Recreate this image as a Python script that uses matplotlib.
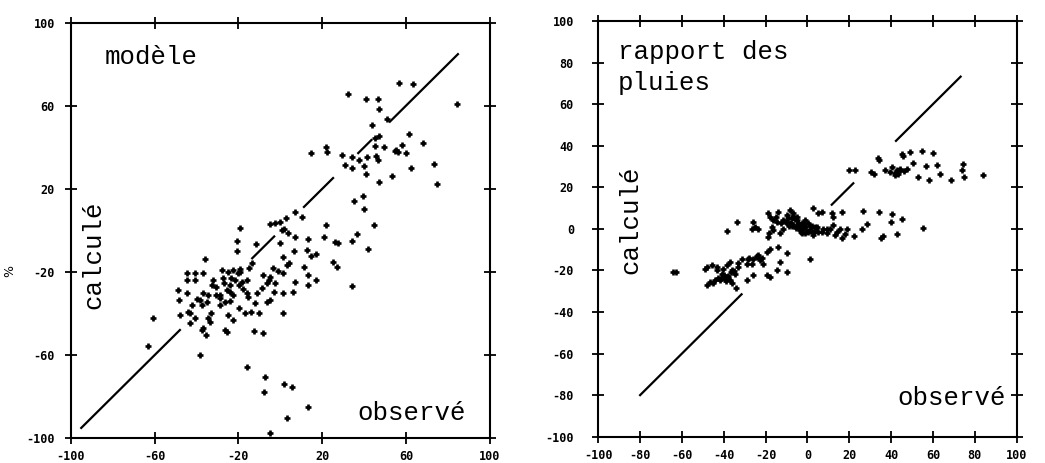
import numpy as np
import matplotlib
matplotlib.use("Agg")
import matplotlib.pyplot as plt

# panel 1 : modele  (observe, calcule) en %
obs_mod = [32.1, 40.7, 46.7, 47.1, 56.8, 63.4, 84.4, 44.0, 51.0, 47.1, 61.5, 68.2, 45.2, 49.4,
           21.8, 22.4, 14.8, 29.7, 34.0, 37.7, 41.2, 45.9, 46.7, 54.7, 58.2, 60.2, 30.9, 34.4,
           39.9, 40.9, 46.9, 53.1, 62.6, 73.3, 74.6, 35.1, 39.6, 40.2, 44.7, 42.0, 34.0, 34.0,
           36.4, 21.8, 20.8, 26.1, 27.7, 25.0, 27.2, 7.0, 10.2, 2.7, -4.9, -2.5, 0.6, 3.8,
           7.0, -0.2, -19.2, -20.5, -20.5, -11.6, 13.4, 12.6, 14.9, 17.0, 6.7, 1.4, 4.3, 11.3,
           13.4, 17.0, 13.4, 7.0, 3.0, 1.4, -3.7, -1.0, -4.9, -8.1, -6.5, -2.5, 1.4, 6.2,
           -3.0, -4.9, -8.9, -11.3, -12.1, -15.3, -14.1, -10.0, -6.5, 1.4, -14.8, -13.7, -19.2,
           -22.4, -21.6, -19.6, -18.0, -16.1, -22.4, -24.0, -19.6, -17.0, -22.4, -26.4, -25.3,
           -12.6, -8.4, -24.8, -28.0, -26.9, -25.6, -28.8, -24.0, -32.0, -32.4, -30.7, -28.8,
           -24.8, -26.4, -35.9, -36.7, -40.7, -44.4, -40.7, -44.4, -48.6, -48.1, -44.7, -42.3,
           -43.1, -47.9, -44.2, -40.7, -43.1, -39.9, -38.3, -37.5, -35.1, -34.3, -36.7, -33.2,
           -34.3, -33.5, -36.7, -37.5, -35.5, -38.3, -60.9, -63.0, -15.7, -7.3, -7.8, 1.7, 5.4,
           13.4, 3.3, -4.9, -27.2, -30.7, -23.7, -18.1, -15.7, -24.0, -28.8, -20.0, -19.0,
           0.0, 2.0, -5.5, 55.0, 56.0, 45.0]
calc_mod = [65.5, 63.4, 63.4, 58.5, 70.8, 70.3, 61.0, 50.9, 53.5, 45.2, 46.3, 41.9, 40.8, 40.3,
            40.0, 37.5, 37.1, 36.2, 35.5, 33.9, 35.5, 35.8, 33.9, 38.4, 41.0, 37.1, 31.5, 29.9,
            31.2, 27.2, 23.5, 26.2, 30.2, 31.8, 22.2, 14.2, 16.6, 10.2, 2.6, -8.9, -26.7, -4.9,
            -1.8, 2.5, -3.3, -5.7, -5.9, -15.0, -17.4, 8.9, 6.3, 5.9, 3.0, 3.4, 0.1, -1.4,
            -3.0, -6.2, 1.0, -4.9, -9.7, -6.7, -4.1, -9.4, -12.1, -11.3, -9.7, -12.6, -15.8, -17.4,
            -21.4, -23.8, -26.2, -24.6, -16.6, -20.6, -18.2, -19.3, -22.2, -21.4, -25.4, -25.4,
            -29.9, -29.4, -29.4, -33.4, -27.8, -30.2, -35.0, -31.8, -39.1, -39.9, -34.2, -39.9,
            -18.2, -15.8, -19.8, -19.0, -23.8, -26.2, -28.3, -30.2, -31.0, -33.8, -37.5, -39.9,
            -43.1, -47.9, -48.7, -48.2, -49.2, -19.8, -19.0, -25.4, -28.6, -31.0, -29.4, -23.8,
            -26.2, -31.0, -32.3, -40.7, -34.2, -13.9, -20.3, -20.6, -20.3, -23.8, -23.8, -28.6,
            -33.4, -30.2, -35.8, -39.9, -40.7, -39.1, -42.3, -44.3, -33.0, -33.4, -35.8, -34.2,
            -31.0, -30.2, -39.9, -42.3, -43.9, -47.1, -47.9, -50.3, -59.9, -41.9, -55.4, -65.8,
            -70.3, -77.5, -74.0, -75.5, -84.8, -90.4, -97.6, -23.0, -27.0, -23.0, -24.6, -23.8,
            -26.2, -35.8, -20.5, -18.5, 4.0, 0.5, -24.0, 38.5, 37.8, 44.5]

# panel 2 : rapport des pluies
obs_rap = [22.7, 30.2, 31.8, 34.3, 37.1, 40.2, 41.8, 43.4, 45.0, 45.8, 49.0, 50.3, 47.4, 46.1,
           54.6, 60.2, 56.7, 61.8, 63.3, 53.0, 58.2, 68.4, 74.2, 73.7, 74.8, 84.1, 42.6, 39.4,
           44.2, 26.7, 34.3, 40.2, 39.7, 45.0, 28.3, 25.9, 22.4, 18.7, 55.4, 42.6, 36.3, 35.0,
           16.3, 12.4, 11.6, 6.8, 2.8, 5.2, 12.4, 15.5, 16.3, 13.1, 9.2, 6.8, 4.4, 2.8, 0.4,
           -1.2, -2.8, -5.2, -6.8, -8.4, -10.0, -11.6, -14.7, -16.3, -17.9, -18.7, -13.9, -17.1,
           -18.2, -18.7, -16.3, -13.1, -11.6, -10.0, -8.4, -6.8, -4.4, -3.6, -2.8, -1.2, 0.4,
           1.2, 5.2, 7.6, -5.2, -7.6, -25.9, -25.1, -23.5, -26.7, -33.5, -38.6, 1.2,
           -64.1, -49.0, -48.2, -45.8, -43.4, -45.0, -42.6, -41.0, -40.2, -38.6, -37.1, -38.6,
           -37.1, -34.7, -36.3, -34.2, -33.1, -31.5, -29.1, -28.3, -25.9, -24.3, -22.7, -21.1,
           -26.7, -25.9, -29.1, -23.5, -19.5, -17.9, -13.9, -10.0, -13.1, -14.7, -10.0, -17.9,
           -19.5, -43.4, -41.8, -48.2, -46.6, -39.4, -37.8, -8.0, -6.0, -4.0, -2.0, 0.0, 2.0,
           -9.0, -5.5, -1.0, 3.5, -7.0, -3.0, 1.5, -40.0, -36.0, -44.0, -63.0, 20.0, 33.5,
           -10.5, -9.5, -7.5, -4.5, -3.0, -1.5, 1.0, 3.0, 4.0, -12.5, -15.0, -36.5, -39.0,
           -41.5, -35.0, -33.0, -28.0, -24.0, -21.5, 9.5, 11.0, 14.0, 18.0, 42.0, 44.0]
calc_rap = [28.2, 27.4, 26.6, 33.0, 28.2, 29.8, 26.9, 26.6, 36.2, 34.9, 37.0, 31.7, 29.0, 27.9,
            37.5, 36.7, 30.1, 30.6, 26.6, 25.0, 23.7, 23.4, 31.1, 28.5, 25.0, 25.8, 28.2, 27.4,
            29.0, 8.7, 7.9, 7.1, 3.4, 4.6, 2.2, 0.0, -3.5, 0.0, 0.2, -2.7, -3.5, -4.6,
            7.9, 5.8, 7.7, 7.9, 9.8, 7.4, 1.8, 0.0, -4.6, -3.0, 0.0, -1.4, 1.0, -3.0, -1.4,
            1.0, 2.6, 4.2, 7.4, 9.0, 6.6, 4.2, 3.4, 4.2, 5.8, 7.4, 8.2, 1.0,
            -2.2, -3.8, -0.6, -2.2, 0.0, 2.6, 2.9, 1.8, 1.8, -0.6, -2.2, -1.8, 2.6,
            -0.6, -1.4, 0.0, 5.8, 5.0, 3.4, 1.0, 0.0, 0.0, 3.4, -1.0, -14.7,
            -20.7, -19.1, -18.3, -17.5, -18.3, -26.3, -23.9, -21.5, -19.1, -17.5, -15.9, -23.1,
            -24.7, -21.5, -26.3, -28.7, -18.3, -14.7, -16.7, -14.7, -14.3, -13.5, -15.1, -16.7,
            -16.7, -22.3, -24.7, -12.7, -11.1, -9.5, -8.7, -11.4, -15.9, -19.9, -20.7, -23.1,
            -22.3, -19.9, -24.7, -27.1, -25.5, -24.0, -22.5, 3.0, 4.5, 2.0, 0.5, -1.0, 1.5,
            1.5, 0.5, 4.0, 1.0, 6.0, -1.5, -1.0, -22.0, -20.0, -24.5, -20.7, 28.5, 34.0,
            3.5, 5.0, 1.5, 3.0, 0.5, 2.0, 1.5, -1.5, 0.5, 3.0, 5.5, -21.0, -25.0,
            -23.5, -20.5, -16.5, -14.0, -13.0, -14.0, -2.0, 0.0, -1.5, -2.5, 26.0, 28.5]

# droite 1:1 (morceaux visibles)
seg_mod = [(-95, -47.9), (-13.4, -2.9), (11.3, 25.2), (37.2, 43.5), (52.3, 84.8)]
seg_rap = [(-80, -31.5), (11.6, 21.9), (42.3, 73.2)]

ticks_mod = [-100, -60, -20, 20, 60, 100]
ticks_rap = [-100, -80, -60, -40, -20, 0, 20, 40, 60, 80, 100]

txt = dict(family="Liberation Mono", fontsize=18.5, color="black")

fig = plt.figure(figsize=(10.45, 4.63), dpi=100)
ax1 = fig.add_axes([0.0677, 0.0533, 0.401, 0.898])
ax2 = fig.add_axes([0.5725, 0.0568, 0.4004, 0.898])


def setup(ax, ticks, ypad):
    ax.set_xlim(-100, 100)
    ax.set_ylim(-100, 100)
    ax.set_xticks(ticks)
    ax.set_yticks(ticks)
    ax.set_xticklabels([str(t) for t in ticks])
    ax.set_yticklabels([str(t) for t in ticks])
    ax.tick_params(direction="inout", length=9, width=1.3, top=True, right=True,
                   labelsize=8.5)
    ax.tick_params(axis="y", pad=ypad)
    ax.tick_params(axis="x", pad=4)
    for lab in ax.get_xticklabels() + ax.get_yticklabels():
        lab.set_family("DejaVu Sans Mono")
        lab.set_fontweight("bold")
    for s in ax.spines.values():
        s.set_linewidth(1.5)


setup(ax1, ticks_mod, 7)
setup(ax2, ticks_rap, 13)

for a, b in seg_mod:
    ax1.plot([a, b], [a, b], color="black", lw=1.6)
for a, b in seg_rap:
    ax2.plot([a, b], [a, b], color="black", lw=1.6)

ax1.plot(obs_mod, calc_mod, "+", color="black", ms=4.5, mew=1.9)
ax2.plot(obs_rap, calc_rap, "+", color="black", ms=4.5, mew=1.9)

ax1.text(-83.6, 83.3, "modèle", va="center", ha="left", **txt)
ax1.text(37.0, -87.7, "observé", va="center", ha="left", **txt)
ax1.text(-89.2, -11.8, "calculé", va="center", ha="center", rotation=90, **txt)

ax2.text(-90.6, 91.0, "rapport des\npluies", va="top", ha="left", linespacing=1.4, **txt)
ax2.text(43.2, -81.6, "observé", va="center", ha="left", **txt)
ax2.text(-84.8, 4.2, "calculé", va="center", ha="center", rotation=90, **txt)

fig.text(10 / 1045, 1 - 271 / 463, "%", rotation=90, fontsize=9, ha="center", va="center")

fig.savefig("out.png", dpi=100)
